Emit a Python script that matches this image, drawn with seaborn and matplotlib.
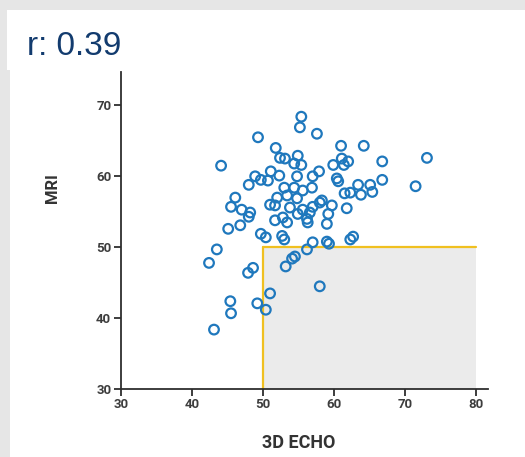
import matplotlib
matplotlib.use("Agg")
import matplotlib.pyplot as plt
import matplotlib.patches as mpatches
import seaborn as sns
import pandas as pd

# Data
echo_3d = [55.4, 55.2, 57.6, 49.3, 51.8, 61.0, 64.2, 73.1, 52.4, 53.1, 54.9, 54.4, 55.4, 59.9,
           61.1, 61.4, 62.0, 66.8, 44.1, 48.9, 49.7, 50.7, 51.1, 52.3, 54.8, 57.0, 57.9, 60.4,
           60.6, 66.8, 71.5, 48.0, 53.0, 54.4, 55.6, 56.9, 61.5, 63.4, 65.1, 62.3, 63.8, 65.4,
           46.1, 45.5, 47.0, 48.2, 48.0, 51.0, 52.0, 53.4, 54.8, 58.3, 51.7, 53.8, 55.6, 57.0,
           58.0, 59.7, 61.8, 52.8, 54.9, 56.6, 56.2, 59.2, 51.7, 53.4, 56.3, 59.0, 45.1, 46.8,
           49.7, 50.4, 52.7, 53.0, 57.0, 59.0, 59.3, 62.3, 62.7, 56.2, 54.5, 54.1, 53.2, 43.5,
           42.4, 47.9, 48.6, 58.0, 51.0, 45.4, 45.5, 49.2, 50.4, 43.1]
mri = [68.3, 66.8, 65.9, 65.4, 63.9, 64.2, 64.2, 62.5, 62.5, 62.4, 62.8, 61.7, 61.5, 61.5,
       62.4, 61.5, 62.0, 62.0, 61.4, 59.9, 59.4, 59.3, 60.6, 60.0, 59.9, 59.9, 60.6, 59.6,
       59.2, 59.4, 58.5, 58.7, 58.3, 58.3, 57.9, 58.3, 57.5, 58.7, 58.7, 57.6, 57.3, 57.7,
       56.9, 55.6, 55.2, 54.8, 54.2, 55.9, 56.9, 57.2, 56.8, 56.5, 55.8, 55.5, 55.2, 55.6,
       56.2, 55.8, 55.4, 54.1, 54.6, 54.8, 53.9, 54.6, 53.7, 53.4, 53.4, 53.2, 52.5, 53.0,
       51.8, 51.3, 51.5, 51.0, 50.6, 50.7, 50.4, 51.0, 51.4, 49.6, 48.6, 48.3, 47.2, 49.6,
       47.7, 46.3, 47.0, 44.4, 43.4, 42.3, 40.6, 42.0, 41.1, 38.3]
x_ticks = [30, 40, 50, 60, 70, 80]
y_ticks = [30, 40, 50, 60, 70]
threshold_x = 50
threshold_y = 50
region_x_max = 80
title_text = "r: 0.39"
x_label = "3D ECHO"
y_label = "MRI"

df = pd.DataFrame({"echo": echo_3d, "mri": mri})

sns.set_style("white")
plt.rcParams["font.family"] = ["Roboto", "DejaVu Sans"]

W, H = 525, 457
fig = plt.figure(figsize=(W / 100, H / 100), dpi=100)
fig.patch.set_facecolor("#e6e6e6")
# white panels (title box and main panel)
fig.patches.append(mpatches.Rectangle((7 / W, 1 - 70 / H), (W - 7) / W, 60 / H,
                                      transform=fig.transFigure, facecolor="white",
                                      edgecolor="none", zorder=-10))
fig.patches.append(mpatches.Rectangle((10 / W, 0), (W - 10) / W, (H - 10) / H,
                                      transform=fig.transFigure, facecolor="white",
                                      edgecolor="none", zorder=-10))

ax = fig.add_axes([121 / W, 1 - 388.5 / H, (488 - 121) / W, (388.5 - 72) / H])
ax.set_zorder(5)
ax.set_facecolor("none")

# shaded region
ax.add_patch(mpatches.Rectangle((threshold_x, 30), region_x_max - threshold_x, threshold_y - 30,
                                facecolor="#ebebeb", edgecolor="none", zorder=1))
ax.plot([threshold_x, threshold_x], [30, threshold_y], color="#f0c020", lw=1.6, zorder=2)
ax.plot([threshold_x, region_x_max], [threshold_y, threshold_y], color="#f0c020", lw=1.6, zorder=2)

sns.scatterplot(data=df, x="echo", y="mri", ax=ax, marker="o", s=48,
                facecolor="none", edgecolor="#1f78bd", linewidth=1.6, zorder=3)

ax.set_xlim(30, 81.7)
ax.set_ylim(30, 74.6)
ax.set_xticks(x_ticks)
ax.set_yticks(y_ticks)
for s in ["top", "right"]:
    ax.spines[s].set_visible(False)
for s in ["left", "bottom"]:
    ax.spines[s].set_color("#2e2e2e")
    ax.spines[s].set_linewidth(1.3)
ax.tick_params(axis="both", direction="out", length=5, width=1.3, color="#2e2e2e",
               labelsize=9.5, labelcolor="#3d3d3d", pad=2, bottom=True, left=True)
for lab in ax.get_xticklabels() + ax.get_yticklabels():
    lab.set_fontweight("bold")

ax.set_xlabel(x_label, fontsize=13, fontweight="bold", color="#333333")
ax.set_ylabel(y_label, fontsize=12, fontweight="bold", color="#333333")
ax.xaxis.set_label_coords((298.5 - 121) / (488 - 121), -(434 - 388.5) / (388.5 - 72))
ax.yaxis.set_label_coords((60 - 121) / (488 - 121), (388.5 - 188) / (388.5 - 72))

fig.text(27 / W, 1 - 55 / H, title_text, fontsize=24, color="#123b6e",
         family=["Liberation Sans", "DejaVu Sans"], ha="left", va="baseline")

fig.savefig("out.png", dpi=100, facecolor=fig.get_facecolor())
